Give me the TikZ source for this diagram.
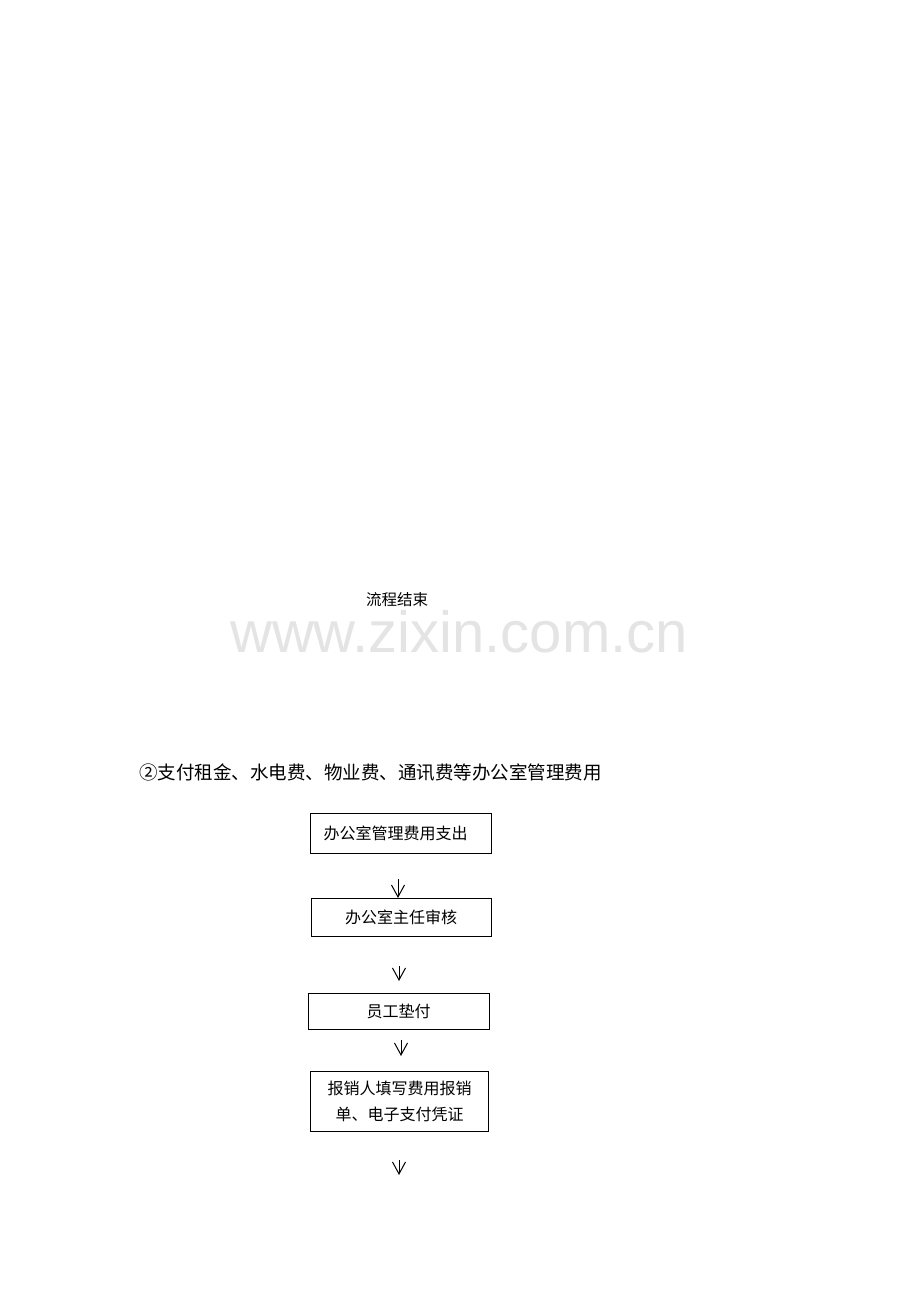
\documentclass[tikz,border=0pt]{standalone}
\usepackage{fontspec}
\setmainfont{Noto Sans CJK SC}
\newfontfamily\wmfont{Liberation Sans}
\usetikzlibrary{arrows.meta}
\definecolor{wmgray}{RGB}{228,228,228}
\tikzset{
  flowbox/.style={draw=black, line width=1pt, rectangle, inner sep=0pt, font=\fontsize{16}{26}\selectfont, align=center},
  flowarrow/.style={line width=1pt, -{Straight Barb[length=12pt,width=13pt,line width=1pt]}},
  plaintext/.style={inner sep=0pt}
}
\begin{document}
\begin{tikzpicture}[x=1pt,y=-1pt]
\useasboundingbox (0,0) rectangle (920,1302);
\fill[white] (0,0) rectangle (920,1302);

\node[plaintext, text=wmgray, font=\wmfont\fontsize{58}{60}\selectfont, anchor=base] (wm) at (459,652) {www.zixin.com.cn};
\node[plaintext, font=\fontsize{15.5}{18}\selectfont] (end) at (397,600) {流程结束};

\node[plaintext, anchor=west, font=\fontsize{18.5}{22}\selectfont] (title) at (139,773) {②支付租金、水电费、物业费、通讯费等办公室管理费用};

\node[flowbox, minimum width=181pt, minimum height=40pt] (b1) at (400.5,833) {办公室管理费用支出\hspace*{10pt}};
\node[flowbox, minimum width=180pt, minimum height=38pt] (b2) at (401,917) {办公室主任审核};
\node[flowbox, minimum width=181pt, minimum height=36pt] (b3) at (398.5,1011) {员工垫付};
\node[flowbox, minimum width=178pt, minimum height=60pt] (b4) at (399.5,1101) {报销人填写费用报销\\单、电子支付凭证};

\coordinate (a1s) at (398,879);
\coordinate (a1e) at (398,898);
\coordinate (a2s) at (399,966);
\coordinate (a2e) at (399,981);
\coordinate (a3s) at (401,1040);
\coordinate (a3e) at (401,1056);
\coordinate (a4s) at (399,1160);
\coordinate (a4e) at (399,1175);

\draw[flowarrow] (a1s) -- (a1e);
\draw[flowarrow] (a2s) -- (a2e);
\draw[flowarrow] (a3s) -- (a3e);
\draw[flowarrow] (a4s) -- (a4e);
\end{tikzpicture}
\end{document}
